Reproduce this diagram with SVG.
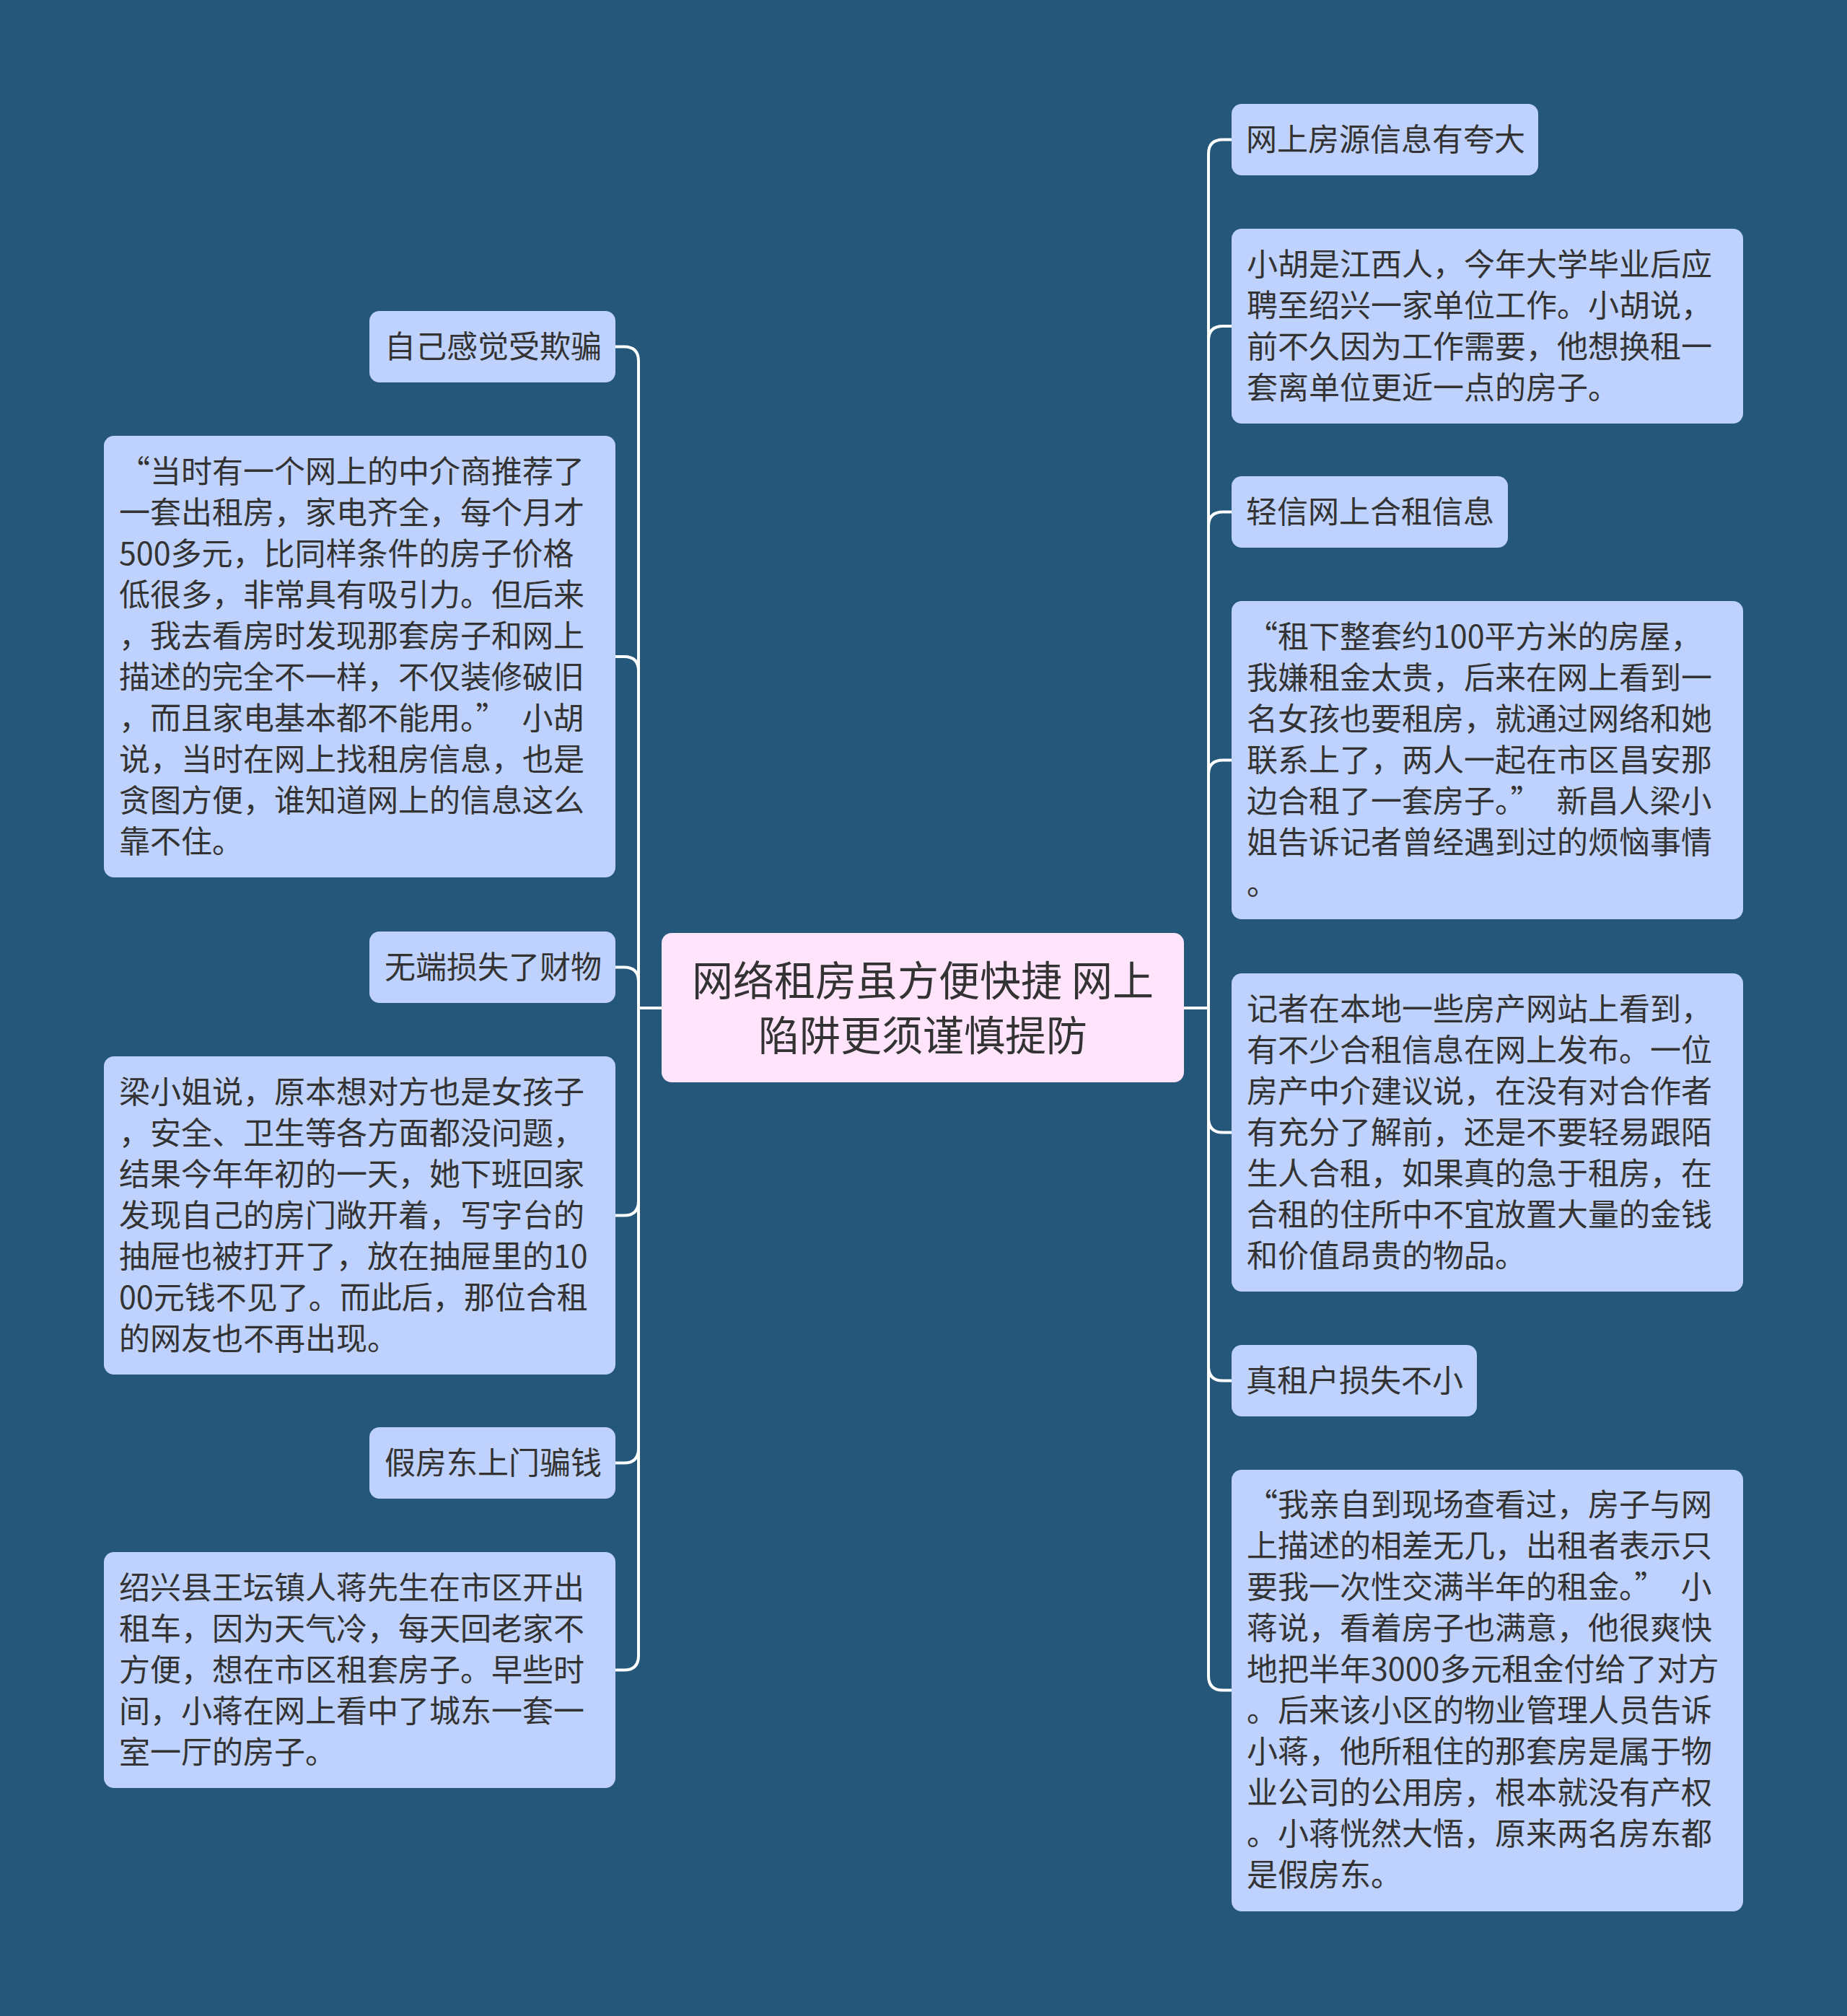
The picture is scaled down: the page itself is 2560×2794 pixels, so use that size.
<svg xmlns="http://www.w3.org/2000/svg" width="2560" height="2794" viewBox="0 0 2560 2794">
<style>
.bg{fill:#245779}
.n{fill:#BFD2FD}
.c{fill:#FFE4FB}
.t{font-family:"Noto Sans CJK SC","Noto Sans",sans-serif;font-size:43px;fill:#333333}
.ct{font-family:"Noto Sans CJK SC","Noto Sans",sans-serif;font-size:57px;fill:#333333;text-anchor:middle}
.lk{fill:none;stroke:#FFFFFF;stroke-width:4;stroke-linecap:round;stroke-linejoin:round}
</style>
<rect class="bg" x="0" y="0" width="2560" height="2794"/>
<g id="connectors">
<path class="lk" d="M1641 1397 H1675 V213.5 Q1675 193.5 1695 193.5 H1707"/>
<path class="lk" d="M1641 1397 H1675 V472 Q1675 452 1695 452 H1707"/>
<path class="lk" d="M1641 1397 H1675 V729.5 Q1675 709.5 1695 709.5 H1707"/>
<path class="lk" d="M1641 1397 H1675 V1073.5 Q1675 1053.5 1695 1053.5 H1707"/>
<path class="lk" d="M1641 1397 H1675 V1549.5 Q1675 1569.5 1695 1569.5 H1707"/>
<path class="lk" d="M1641 1397 H1675 V1893.5 Q1675 1913.5 1695 1913.5 H1707"/>
<path class="lk" d="M1641 1397 H1675 V2322.5 Q1675 2342.5 1695 2342.5 H1707"/>
<path class="lk" d="M917 1397 H885 V500.5 Q885 480.5 865 480.5 H853"/>
<path class="lk" d="M917 1397 H885 V930 Q885 910 865 910 H853"/>
<path class="lk" d="M917 1397 H885 V1360.5 Q885 1340.5 865 1340.5 H853"/>
<path class="lk" d="M917 1397 H885 V1664.5 Q885 1684.5 865 1684.5 H853"/>
<path class="lk" d="M917 1397 H885 V2007.5 Q885 2027.5 865 2027.5 H853"/>
<path class="lk" d="M917 1397 H885 V2294.5 Q885 2314.5 865 2314.5 H853"/>
</g>
<g id="center">
<rect class="c" x="917" y="1293" width="724" height="207" rx="14"/>
<text class="ct" x="1279" y="1380">网络租房虽方便快捷 网上</text>
<text class="ct" x="1279" y="1456">陷阱更须谨慎提防</text>
</g>
<g id="r1">
<rect class="n" x="1707" y="144" width="425" height="99" rx="14"/>
<text class="t" x="1727" y="209">网上房源信息有夸大</text>
</g>
<g id="r2">
<rect class="n" x="1707" y="317" width="709" height="270" rx="14"/>
<text class="t"><tspan x="1728" y="382">小胡是江西人，今年大学毕业后应</tspan><tspan x="1728" dy="57">聘至绍兴一家单位工作。小胡说，</tspan><tspan x="1728" dy="57">前不久因为工作需要，他想换租一</tspan><tspan x="1728" dy="57">套离单位更近一点的房子。</tspan></text>
</g>
<g id="r3">
<rect class="n" x="1707" y="660" width="383" height="99" rx="14"/>
<text class="t" x="1727" y="725">轻信网上合租信息</text>
</g>
<g id="r4">
<rect class="n" x="1707" y="833" width="709" height="441" rx="14"/>
<text class="t"><tspan x="1728" y="898">“租下整套约100平方米的房屋，</tspan><tspan x="1728" dy="57">我嫌租金太贵，后来在网上看到一</tspan><tspan x="1728" dy="57">名女孩也要租房，就通过网络和她</tspan><tspan x="1728" dy="57">联系上了，两人一起在市区昌安那</tspan><tspan x="1728" dy="57">边合租了一套房子。”</tspan><tspan dx="21">新昌人梁小</tspan><tspan x="1728" dy="57">姐告诉记者曾经遇到过的烦恼事情</tspan><tspan x="1728" dy="57">。</tspan></text>
</g>
<g id="r5">
<rect class="n" x="1707" y="1349" width="709" height="441" rx="14"/>
<text class="t"><tspan x="1728" y="1414">记者在本地一些房产网站上看到，</tspan><tspan x="1728" dy="57">有不少合租信息在网上发布。一位</tspan><tspan x="1728" dy="57">房产中介建议说，在没有对合作者</tspan><tspan x="1728" dy="57">有充分了解前，还是不要轻易跟陌</tspan><tspan x="1728" dy="57">生人合租，如果真的急于租房，在</tspan><tspan x="1728" dy="57">合租的住所中不宜放置大量的金钱</tspan><tspan x="1728" dy="57">和价值昂贵的物品。</tspan></text>
</g>
<g id="r6">
<rect class="n" x="1707" y="1864" width="340" height="99" rx="14"/>
<text class="t" x="1727" y="1929">真租户损失不小</text>
</g>
<g id="r7">
<rect class="n" x="1707" y="2037" width="709" height="612" rx="14"/>
<text class="t"><tspan x="1728" y="2101">“我亲自到现场查看过，房子与网</tspan><tspan x="1728" dy="57">上描述的相差无几，出租者表示只</tspan><tspan x="1728" dy="57">要我一次性交满半年的租金。”</tspan><tspan dx="21">小</tspan><tspan x="1728" dy="57">蒋说，看着房子也满意，他很爽快</tspan><tspan x="1728" dy="57">地把半年3000多元租金付给了对方</tspan><tspan x="1728" dy="57">。后来该小区的物业管理人员告诉</tspan><tspan x="1728" dy="57">小蒋，他所租住的那套房是属于物</tspan><tspan x="1728" dy="57">业公司的公用房，根本就没有产权</tspan><tspan x="1728" dy="57">。小蒋恍然大悟，原来两名房东都</tspan><tspan x="1728" dy="57">是假房东。</tspan></text>
</g>
<g id="l1">
<rect class="n" x="512" y="431" width="341" height="99" rx="14"/>
<text class="t" x="533" y="496">自己感觉受欺骗</text>
</g>
<g id="l2">
<rect class="n" x="144" y="604" width="709" height="612" rx="14"/>
<text class="t"><tspan x="165" y="669">“当时有一个网上的中介商推荐了</tspan><tspan x="165" dy="57">一套出租房，家电齐全，每个月才</tspan><tspan x="165" dy="57">500多元，比同样条件的房子价格</tspan><tspan x="165" dy="57">低很多，非常具有吸引力。但后来</tspan><tspan x="165" dy="57">，我去看房时发现那套房子和网上</tspan><tspan x="165" dy="57">描述的完全不一样，不仅装修破旧</tspan><tspan x="165" dy="57">，而且家电基本都不能用。”</tspan><tspan dx="21">小胡</tspan><tspan x="165" dy="57">说，当时在网上找租房信息，也是</tspan><tspan x="165" dy="57">贪图方便，谁知道网上的信息这么</tspan><tspan x="165" dy="57">靠不住。</tspan></text>
</g>
<g id="l3">
<rect class="n" x="512" y="1291" width="341" height="99" rx="14"/>
<text class="t" x="533" y="1356">无端损失了财物</text>
</g>
<g id="l4">
<rect class="n" x="144" y="1464" width="709" height="441" rx="14"/>
<text class="t"><tspan x="165" y="1529">梁小姐说，原本想对方也是女孩子</tspan><tspan x="165" dy="57">，安全、卫生等各方面都没问题，</tspan><tspan x="165" dy="57">结果今年年初的一天，她下班回家</tspan><tspan x="165" dy="57">发现自己的房门敞开着，写字台的</tspan><tspan x="165" dy="57">抽屉也被打开了，放在抽屉里的10</tspan><tspan x="165" dy="57">00元钱不见了。而此后，那位合租</tspan><tspan x="165" dy="57">的网友也不再出现。</tspan></text>
</g>
<g id="l5">
<rect class="n" x="512" y="1978" width="341" height="99" rx="14"/>
<text class="t" x="533" y="2043">假房东上门骗钱</text>
</g>
<g id="l6">
<rect class="n" x="144" y="2151" width="709" height="327" rx="14"/>
<text class="t"><tspan x="165" y="2216">绍兴县王坛镇人蒋先生在市区开出</tspan><tspan x="165" dy="57">租车，因为天气冷，每天回老家不</tspan><tspan x="165" dy="57">方便，想在市区租套房子。早些时</tspan><tspan x="165" dy="57">间，小蒋在网上看中了城东一套一</tspan><tspan x="165" dy="57">室一厅的房子。</tspan></text>
</g>
</svg>
